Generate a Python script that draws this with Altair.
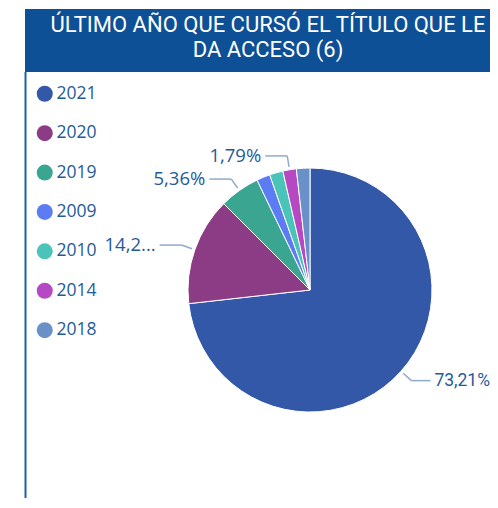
import altair as alt
import pandas as pd

years = ["2021", "2020", "2019", "2009", "2010", "2014", "2018"]
counts = [41, 8, 3, 1, 1, 1, 1]
labels = ["73,21%", "14,2...", "5,36%", "", "", "1,79%", ""]
colors = ["#3358A8", "#8B3C85", "#3AA591", "#5B7CF2", "#4AC4B8", "#B748C4", "#6A90C8"]
title_lines = ["ÚLTIMO AÑO QUE CURSÓ EL TÍTULO QUE LE", "DA ACCESO (6)"]

df = pd.DataFrame({"year": years, "count": counts, "label": labels, "idx": list(range(len(years)))})

W, H = 482, 490
CX, CY, R = 302, 282, 122
TXT = "#1F5B9A"
LEAD = "#8FAACB"

base = alt.Chart(df)

color = alt.Color("year:N", scale=alt.Scale(domain=years, range=colors),
                  sort=years,
                  legend=alt.Legend(title=None, orient="none", legendX=28, legendY=77,
                                    symbolType="circle", symbolSize=256, symbolStrokeWidth=0,
                                    labelFontSize=17.5, labelColor=TXT, labelFont="Open Sans",
                                    rowPadding=20.4, labelOffset=3, padding=0))

pie = base.mark_arc(radius=R, stroke="white", strokeWidth=1).encode(
    theta=alt.Theta("count:Q", stack=True),
    order=alt.Order("idx:Q"),
    color=color,
    x=alt.value(CX), y=alt.value(CY),
)

geo = base.transform_joinaggregate(total="sum(count)").transform_window(
    cum="sum(count)", sort=[alt.SortField("idx")], frame=[None, 0]
).transform_filter("datum.label != ''").transform_calculate(
    mid=f"(datum.cum - datum.count/2) / datum.total * 2 * PI",
).transform_calculate(
    s="sin(datum.mid)", c="cos(datum.mid)",
).transform_calculate(
    side="datum.s >= 0 ? 1 : -1",
    x1=f"{CX} + {R+3} * datum.s", y1=f"{CY} - {R+3} * datum.c",
    x2=f"{CX} + {R+14} * datum.s", y2=f"{CY} - {R+14} * datum.c",
).transform_calculate(
    x3="datum.x2 + (datum.side > 0 ? 19 : 22) * datum.side",
    xt="datum.x2 + (datum.side > 0 ? 23 : 26) * datum.side",
)

lead1 = geo.mark_rule(color=LEAD, strokeWidth=1.5).encode(
    x=alt.X("x1:Q", scale=None), y=alt.Y("y1:Q", scale=None),
    x2="x2:Q", y2="y2:Q")
lead2 = geo.mark_rule(color=LEAD, strokeWidth=1.5).encode(
    x=alt.X("x2:Q", scale=None), y=alt.Y("y2:Q", scale=None),
    x2="x3:Q", y2="y2:Q")
lab_r = geo.transform_filter("datum.side > 0").mark_text(
    align="left", baseline="middle", fontSize=17.5, font="Roboto", color=TXT).encode(
    x=alt.X("xt:Q", scale=None), y=alt.Y("y2:Q", scale=None), text="label:N")
lab_l = geo.transform_filter("datum.side < 0").mark_text(
    align="right", baseline="middle", fontSize=18.5, font="Open Sans", color=TXT).encode(
    x=alt.X("xt:Q", scale=None), y=alt.Y("y2:Q", scale=None), text="label:N")

title_bg = alt.Chart(pd.DataFrame({"a": [0]})).mark_rect(color="#0D5096").encode(
    x=alt.value(17), x2=alt.value(W), y=alt.value(1), y2=alt.value(64))
title_txt = alt.Chart(pd.DataFrame({"a": [0]})).mark_text(
    align="center", baseline="alphabetic", fontSize=22, font="Roboto", color="white",
    lineHeight=25, lineBreak="\n").encode(
    x=alt.value(260), y=alt.value(24), text=alt.value("\n".join(title_lines)))
border = alt.Chart(pd.DataFrame({"a": [0]})).mark_rule(color="#1F5FA8", strokeWidth=2).encode(
    x=alt.value(17.5), y=alt.value(64), y2=alt.value(H + 10))

chart = alt.layer(title_bg, title_txt, border, pie, lead1, lead2, lab_r, lab_l).properties(
    width=W, height=H, padding=0, autosize=alt.AutoSizeParams(type="none")
).configure_view(stroke=None)

chart.save("out.html", embed_options={"renderer": "svg", "actions": False})
